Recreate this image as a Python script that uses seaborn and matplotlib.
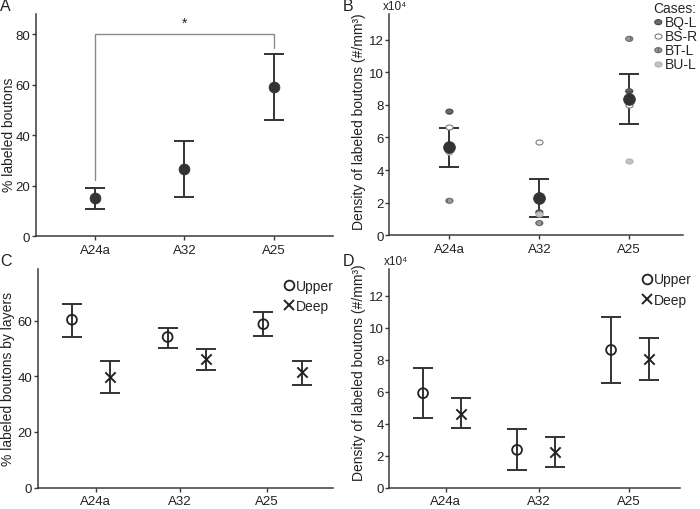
import numpy as np
import pandas as pd
import matplotlib
matplotlib.use('Agg')
import matplotlib.pyplot as plt
from matplotlib.path import Path
from matplotlib.transforms import Affine2D
from matplotlib.lines import Line2D
import seaborn as sns

# Dados
areas = ['A24a', 'A32', 'A25']

# A: % labeled boutons (média e limites da barra de erro)
pct_mean = [15.2, 26.7, 58.9]
pct_lo = [10.8, 15.6, 45.9]
pct_hi = [18.9, 37.5, 72.0]

# B: densidade (x10^4) média e casos individuais
dens_mean = [5.4, 2.3, 8.37]
dens_lo = [4.16, 1.13, 6.81]
dens_hi = [6.56, 3.45, 9.9]
cases = ['BQ-L', 'BS-R', 'BT-L', 'BU-L']
case_bq = [7.59, 1.40, 8.84]
case_bs = [6.67, 5.74, 8.00]
case_bt = [2.11, 0.74, 12.06]
case_bu = [5.09, 1.30, 4.53]

# C: % por camadas
layers = ['Upper', 'Deep']
c_up_mean = [60.3, 54.1, 58.7]
c_up_lo = [54.2, 50.2, 54.5]
c_up_hi = [65.9, 57.5, 63.0]
c_dp_mean = [39.9, 46.2, 41.5]
c_dp_lo = [34.1, 42.3, 36.9]
c_dp_hi = [45.6, 49.9, 45.6]

# D: densidade por camadas (x10^4)
d_up_mean = [5.91, 2.36, 8.62]
d_up_lo = [4.35, 1.07, 6.56]
d_up_hi = [7.47, 3.67, 10.71]
d_dp_mean = [4.62, 2.24, 8.08]
d_dp_lo = [3.73, 1.31, 6.71]
d_dp_hi = [5.58, 3.16, 9.37]

sns.set_style('ticks')
plt.rcParams['font.family'] = ['Liberation Sans', 'DejaVu Sans']
plt.rcParams['axes.edgecolor'] = '#3a3a3a'
plt.rcParams['xtick.color'] = '#3a3a3a'
plt.rcParams['ytick.color'] = '#3a3a3a'
plt.rcParams['xtick.labelcolor'] = '#222222'
plt.rcParams['ytick.labelcolor'] = '#222222'

dark = '#333333'
ebkw = dict(fmt='none', ecolor=dark, elinewidth=1.4, capsize=7.5, capthick=1.4, zorder=2)

fig = plt.figure(figsize=(7, 5.1), dpi=100)
axA = fig.add_axes([0.051, 0.535, 0.425, 0.436])
axB = fig.add_axes([0.556, 0.537, 0.420, 0.434])
axC = fig.add_axes([0.054, 0.042, 0.422, 0.429])
axD = fig.add_axes([0.556, 0.042, 0.415, 0.429])

x = np.arange(len(areas))


def errs(mean, lo, hi):
    mean = np.array(mean)
    return [mean - np.array(lo), np.array(hi) - mean]


def style_axis(ax, xlim, ylim, yticks, ylabel, xticks, ylab_pos):
    sns.despine(ax=ax)
    ax.set_xlim(*xlim)
    ax.set_ylim(*ylim)
    ax.set_yticks(yticks)
    ax.set_xticks(xticks)
    ax.set_xticklabels(areas)
    ax.set_xlabel('')
    ax.set_ylabel(ylabel, fontsize=10, color='#222222')
    ax.yaxis.set_label_coords(*ylab_pos)
    ax.tick_params(axis='both', labelsize=9.5, length=3, width=1)
    ax.tick_params(axis='x', pad=2.5)
    ax.tick_params(axis='y', pad=1)
    for s in ['left', 'bottom']:
        ax.spines[s].set_linewidth(1.1)


# ---- A
dfA = pd.DataFrame({'x': x, 'pct': pct_mean})
axA.errorbar(x, pct_mean, yerr=errs(pct_mean, pct_lo, pct_hi), **ebkw)
sns.scatterplot(data=dfA, x='x', y='pct', ax=axA, s=60, color=dark, edgecolor=dark, zorder=3)
axA.plot([0, 0, 2, 2], [22.3, 80, 80, 74.3], color='#8a8a8a', lw=1)
axA.text(1, 81.5, '*', ha='center', va='bottom', fontsize=10, color='#222222')
style_axis(axA, (-0.67, 2.67), (0, 88), [0, 20, 40, 60, 80], '% labeled boutons', x,
           (-0.065, 0.46))

# ---- B
ell = Path.unit_circle().transformed(Affine2D().scale(1.4, 1.0))
case_vals = [case_bq, case_bs, case_bt, case_bu]
case_face = ['#6a6a6a', 'white', '#9a9a9a', '#c4c4c4']
case_edge = ['#4a4a4a', '#7a7a7a', '#6a6a6a', '#b0b0b0']
case_hatch = ['---', None, '|||', None]
axB.errorbar(x, dens_mean, yerr=errs(dens_mean, dens_lo, dens_hi), **ebkw)
for name, vals, fc, ec, h in zip(cases, case_vals, case_face, case_edge, case_hatch):
    sns.scatterplot(x=x, y=vals, ax=axB, marker=ell, s=26, color=fc, edgecolor=ec,
                    linewidth=0.8, hatch=h, zorder=3, label=name)
sns.scatterplot(x=x, y=dens_mean, ax=axB, s=70, color=dark, edgecolor=dark, zorder=4)
style_axis(axB, (-0.67, 2.6), (0, 13.6), [0, 2, 4, 6, 8, 10, 12],
           'Density of labeled boutons (#/mm³)', x, (-0.08, 0.515))
axB.text(-0.02, 1.01, 'x10⁴', transform=axB.transAxes, fontsize=8.5, ha='left', va='bottom',
         color='#222222')
axB.legend(title='Cases:', loc='upper left', bbox_to_anchor=(0.875, 1.09), frameon=False,
           fontsize=10, title_fontsize=10, handlelength=0.7, handletextpad=0.15,
           labelspacing=0.0, borderpad=0, alignment='left')

# ---- C / D
def layer_panel(ax, up, up_lo, up_hi, dp, dp_lo, dp_hi, xticks, xlim, ylim, yticks, ylabel,
                ylab_pos, leg_anchor):
    xu = x - 0.2
    xd = x + 0.2
    ax.errorbar(xu, up, yerr=errs(up, up_lo, up_hi), **ebkw)
    ax.errorbar(xd, dp, yerr=errs(dp, dp_lo, dp_hi), **ebkw)
    df = pd.DataFrame({'x': np.concatenate([xu, xd]), 'v': list(up) + list(dp),
                       'layer': ['Upper'] * 3 + ['Deep'] * 3})
    sns.scatterplot(data=df[df.layer == 'Upper'], x='x', y='v', ax=ax, marker='o', s=50,
                    facecolor='none', edgecolor='#222222', linewidth=1.3, zorder=3)
    sns.scatterplot(data=df[df.layer == 'Deep'], x='x', y='v', ax=ax, marker='x', s=55,
                    color='#222222', linewidth=1.4, zorder=3)
    style_axis(ax, xlim, ylim, yticks, ylabel, xticks, ylab_pos)
    handles = [Line2D([], [], marker='o', ls='none', mfc='none', mec='#222222', ms=7, mew=1.3),
               Line2D([], [], marker='x', ls='none', color='#222222', ms=7.5, mew=1.4)]
    ax.legend(handles, layers, loc='upper right', bbox_to_anchor=leg_anchor, frameon=False,
              fontsize=10, handletextpad=-0.1, labelspacing=0.45, borderpad=0, handlelength=1.2)


layer_panel(axC, c_up_mean, c_up_lo, c_up_hi, c_dp_mean, c_dp_lo, c_dp_hi,
            [0.05, 0.93, 1.84], (-0.557, 2.53), (0, 78.6), [0, 20, 40, 60],
            '% labeled boutons by layers', (-0.078, 0.5), (1.025, 0.985))
layer_panel(axD, d_up_mean, d_up_lo, d_up_hi, d_dp_mean, d_dp_lo, d_dp_hi,
            [0.04, 1.03, 1.99], (-0.56, 2.53), (0, 13.7), [0, 2, 4, 6, 8, 10, 12],
            'Density of labeled boutons (#/mm³)', (-0.08, 0.53), (1.065, 1.015))
axD.text(-0.02, 1.01, 'x10⁴', transform=axD.transAxes, fontsize=8.5, ha='left', va='bottom',
         color='#222222')

# letras dos painéis
for lbl, (px, py) in zip('ABCD', [(0.0, 0.972), (0.49, 0.972), (0.0, 0.472), (0.49, 0.472)]):
    fig.text(px, py, lbl, fontsize=11.5, color='#222222', ha='left', va='bottom')

plt.savefig('out.png', dpi=100)
